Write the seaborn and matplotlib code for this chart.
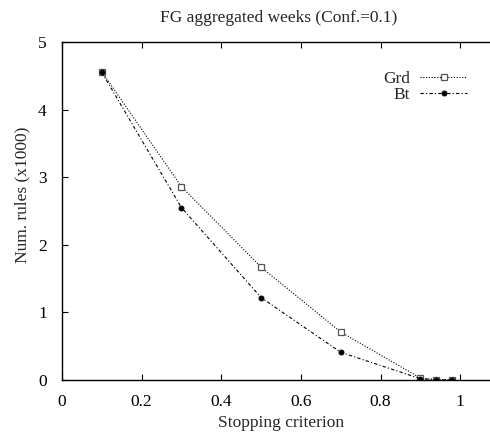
import matplotlib
matplotlib.use("Agg")
import matplotlib.pyplot as plt
import seaborn as sns
import pandas as pd

stopping = [0.1, 0.3, 0.5, 0.7, 0.9, 0.94, 0.98]
grd = [4.56, 2.86, 1.67, 0.71, 0.03, 0.005, 0.003]
bt = [4.55, 2.55, 1.22, 0.41, 0.02, 0.003, 0.002]
xticks = [0, 0.2, 0.4, 0.6, 0.8, 1]
xticklabels = ["0", "0.2", "0.4", "0.6", "0.8", "1"]
yticks = [0, 1, 2, 3, 4, 5]

sns.set_theme(style="ticks")
plt.rcParams['font.family'] = ['Liberation Serif', 'DejaVu Serif']

df_g = pd.DataFrame({"x": stopping, "y": grd})
df_b = pd.DataFrame({"x": stopping, "y": bt})

W, H = 490, 434
fig = plt.figure(figsize=(4.9, 4.34), dpi=100)
ax = fig.add_axes([62/W, 54/H, 1 - 62/W, (380-42)/H])

sns.lineplot(data=df_g, x="x", y="y", ax=ax, color="black", lw=0.8,
             linestyle=(0, (1, 1.5)), marker="s", markersize=4,
             markerfacecolor="white", markeredgecolor="#555555",
             markeredgewidth=0.9, label="Grd", sort=False)
sns.lineplot(data=df_b, x="x", y="y", ax=ax, color="black", lw=0.8,
             linestyle=(0, (3, 2, 1, 2)), marker="o", markersize=3.5,
             markerfacecolor="black", markeredgecolor="black",
             label="Bt", sort=False)

ax.set_xlim(0, 1.075)
ax.set_ylim(0, 5)
ax.set_xticks(xticks)
ax.set_xticklabels(xticklabels)
ax.set_yticks(yticks)
ax.tick_params(direction="in", length=4, width=0.8, labelsize=12.5,
               top=True, right=False, colors="black")
ax.tick_params(axis="x", pad=10)
ax.tick_params(axis="y", pad=11)
for s in ["left", "bottom", "top"]:
    ax.spines[s].set_linewidth(1.0)
    ax.spines[s].set_color("black")
ax.spines["right"].set_visible(False)

ax.set_xlabel("Stopping criterion", fontsize=12.5)
ax.xaxis.set_label_coords((281-62)/428, -35/338)
ax.set_ylabel("Num. rules (x1000)", fontsize=12.5)
ax.yaxis.set_label_coords(-0.075, (380-195)/338)
fig.text(279/W, 1-18/H, "FG aggregated weeks (Conf.=0.1)", fontsize=12.5,
         ha="center", va="center")

leg = ax.legend(loc="upper right", bbox_to_anchor=(467/W, 1-71/H),
                bbox_transform=fig.transFigure, borderaxespad=0, borderpad=0,
                markerfirst=False, frameon=False, fontsize=12.5,
                handlelength=2.7, handletextpad=0.57, labelspacing=0.0)

fig.savefig("out.png", dpi=100)
